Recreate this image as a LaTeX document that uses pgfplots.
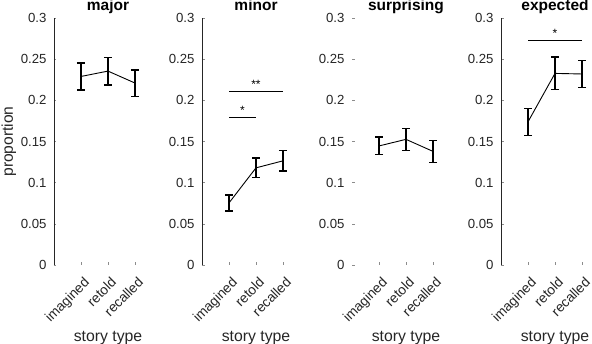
\documentclass[border=0pt]{standalone}
\usepackage{pgfplots}
\pgfplotsset{compat=1.18}
\usepackage{pgfplotstable}
\usepackage{fontspec}
\setmainfont{Liberation Sans}

% mean and standard error per story type (1 imagined, 2 retold, 3 recalled)
\pgfplotstableread{
x y err
1 0.2290 0.0165
2 0.2355 0.0167
3 0.2210 0.0160
}\major
\pgfplotstableread{
x y err
1 0.0754 0.0097
2 0.1180 0.0118
3 0.1265 0.0123
}\minor
\pgfplotstableread{
x y err
1 0.1446 0.0108
2 0.1526 0.0136
3 0.1380 0.0132
}\surprising
\pgfplotstableread{
x y err
1 0.1739 0.0162
2 0.2327 0.0199
3 0.2320 0.0160
}\expected

\definecolor{axisgray}{RGB}{38,38,38}

\tikzset{star/.style={anchor=base, font=\fontsize{12}{13}\selectfont, inner sep=0pt}}

\pgfplotsset{
  panel/.style={
    scale only axis, width=108pt, height=247pt,
    anchor=south west,
    xmin=0, xmax=4, ymin=0, ymax=0.3,
    axis x line*=bottom, axis y line*=left,
    x axis line style={draw=none},
    y axis line style={axisgray, line width=0.5pt},
    xtick={1,2,3}, xticklabels={imagined,retold,recalled},
    ytick={0,0.05,0.1,0.15,0.2,0.25,0.3},
    yticklabels={0,0.05,0.1,0.15,0.2,0.25,0.3},
    tick align=inside, major tick length=2.5pt,
    tick style={black!45, line width=0.5pt},
    x tick label style={xshift=2pt, yshift=-11pt, rotate=45, anchor=north east,
      inner sep=0pt, font=\fontsize{13.7}{15}\selectfont, text=axisgray},
    y tick label style={font=\fontsize{13.2}{14}\selectfont, text=axisgray, xshift=-4pt},
    xlabel={story type},
    xlabel style={at={(axis description cs:0.5,-0.308)}, anchor=base,
      font=\fontsize{15.8}{17}\selectfont, text=axisgray},
    every axis title/.style={at={(axis description cs:0.5,1)}, anchor=base,
      yshift=7pt, font=\bfseries\fontsize{15.5}{17}\selectfont},
    clip=false,
  },
  means/.style={black, line width=0.9pt, mark=none,
    error bars/.cd, y dir=both, y explicit,
    error mark options={black, rotate=90, mark size=4pt, line width=1.3pt},
    error bar style={black, line width=1.3pt}},
  sig/.style={black, line width=0.8pt, mark=none, forget plot},
}

\begin{document}
\begin{tikzpicture}
\useasboundingbox (0,0) rectangle (592pt,344pt);

\begin{axis}[panel, at={(54pt,79pt)}, title={major},
  ylabel={proportion},
  ylabel style={at={(axis description cs:-0.38,0.5)}, anchor=base, rotate=0,
    font=\fontsize{15.6}{17}\selectfont, text=axisgray}]
\addplot[means] table[x=x, y=y, y error=err] {\major};
\end{axis}

\begin{axis}[panel, at={(202pt,79pt)}, title={minor}]
\addplot[means] table[x=x, y=y, y error=err] {\minor};
\addplot[sig] coordinates {(1,0.179) (2,0.179)};
\addplot[sig] coordinates {(1,0.2105) (3,0.2105)};
\node[star] at (axis cs:1.5,0.183) {*};
\node[star] at (axis cs:2,0.2145) {**};
\end{axis}

\begin{axis}[panel, at={(352pt,79pt)}, title={surprising},
  y axis line style={draw=none}]
\addplot[means] table[x=x, y=y, y error=err] {\surprising};
\end{axis}

\begin{axis}[panel, at={(501pt,79pt)}, title={expected}]
\addplot[means] table[x=x, y=y, y error=err] {\expected};
\addplot[sig] coordinates {(1,0.2725) (3,0.2725)};
\node[star] at (axis cs:2,0.2765) {*};
\end{axis}
\end{tikzpicture}
\end{document}
